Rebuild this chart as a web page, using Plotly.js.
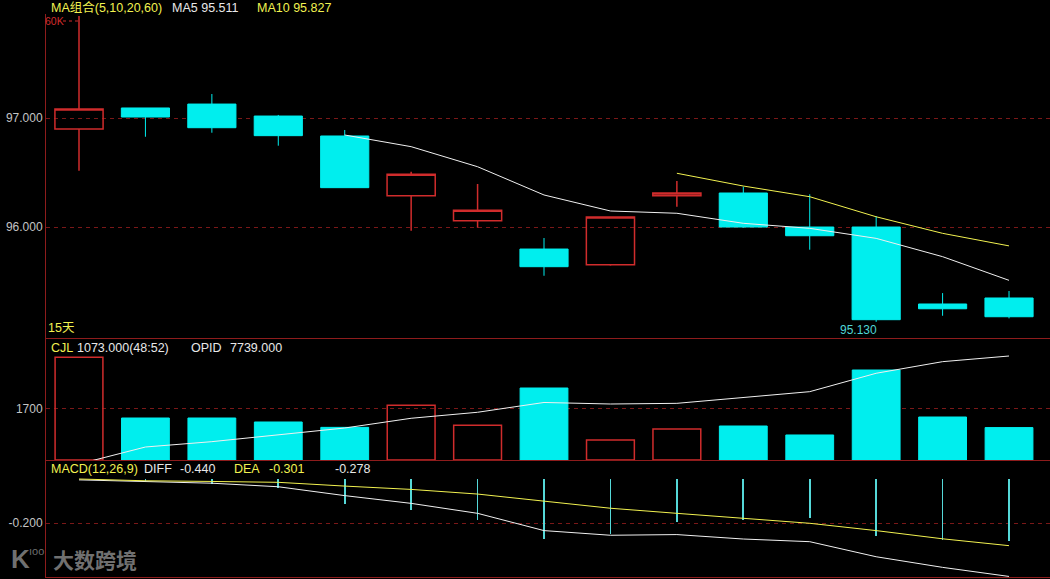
<!DOCTYPE html>
<html><head><meta charset="utf-8">
<script src="https://cdn.plot.ly/plotly-3.0.1.min.js"></script>
<style>html,body{margin:0;padding:0;background:#000;}#chart{width:1050px;height:579px;}</style>
</head><body><div id="chart"></div>
<script>
// ---- data ----
const days  = [1,2,3,4,5,6,7,8,9,10,11,12,13,14,15];
const open  = [96.899,97.092,97.128,97.018,96.835,96.287,96.058,95.798,95.654,96.287,96.312,96.000,96.000,95.294,95.349];
const high  = [97.935,97.092,97.220,97.028,96.890,96.507,96.394,95.899,96.092,96.422,96.370,96.300,96.101,95.394,95.413];
const low   = [96.517,96.828,96.865,96.746,96.361,95.966,95.994,95.553,95.645,96.186,95.994,95.792,95.130,95.186,95.162];
const close = [97.083,97.009,96.911,96.838,96.361,96.483,96.153,95.636,96.092,96.312,96.000,95.920,95.150,95.250,95.177];
const ma5   = [null,null,null,null,96.844,96.737,96.553,96.294,96.147,96.126,96.034,95.988,95.896,95.728,95.511];
const ma10  = [null,null,null,null,null,null,null,null,null,96.493,96.376,96.278,96.094,95.942,95.827];
const volume= [3400,1390,1390,1258,1080,1810,1149,2383,662,1026,1125,828,2979,1423,1073];
const opid  = [6119,6374,6454,6554,6659,6805,6895,7042,7019,7029,7119,7204,7480,7654,7739];
const macd  = [0,-0.008,-0.023,-0.041,-0.114,-0.140,-0.185,-0.271,-0.247,-0.194,-0.185,-0.175,-0.257,-0.275,-0.278];
const diff  = [-0.004,-0.010,-0.019,-0.035,-0.075,-0.110,-0.155,-0.233,-0.254,-0.251,-0.271,-0.283,-0.351,-0.399,-0.440];
const dea   = [0,-0.008,-0.011,-0.015,-0.032,-0.047,-0.068,-0.101,-0.132,-0.155,-0.179,-0.200,-0.233,-0.270,-0.301];
const priceTicks = [96, 97], priceTickText = ['96.000','97.000'];
const volTicks = [1700], volTickText = ['1700'];
const macdTicks = [-0.2], macdTickText = ['-0.200'];

// ---- style ----
const RED = '#d02c2c', CYAN = '#00eeee', BORDER = '#8e1c1c', GRID = '#7a1818';
const YEL = '#f2f250', WHT = '#e8e8e8', AXT = '#c4c4c4';
const FONT = 'Liberation Sans, Arial, Noto Sans CJK SC, sans-serif';
const W = 1050, H = 579, L = 46, R = 0, T = 14, B = 2;
const px = x => (x - L) / (W - L - R);
const py = y => (H - B - y) / (H - T - B);

const isUp = days.map((d, i) => close[i] >= open[i]);

const traces = [
  {type:'candlestick', x:days, open:open, high:high, low:low, close:close,
   xaxis:'x', yaxis:'y', whiskerwidth:0, hoverinfo:'skip',
   increasing:{line:{color:RED, width:1.5}, fillcolor:'rgba(0,0,0,0)'},
   decreasing:{line:{color:CYAN, width:1}, fillcolor:CYAN}},
  {type:'scatter', mode:'lines', x:days, y:ma5, xaxis:'x', yaxis:'y', line:{color:'#f0f0f0', width:1}, hoverinfo:'skip'},
  {type:'scatter', mode:'lines', x:days, y:ma10, xaxis:'x', yaxis:'y', line:{color:YEL, width:1}, hoverinfo:'skip'},
  {type:'bar', x:days, y:volume, xaxis:'x2', yaxis:'y2', width:0.72,
   marker:{color:isUp.map(u => u ? 'rgba(0,0,0,0)' : CYAN),
           line:{color:isUp.map(u => u ? RED : CYAN), width:isUp.map(u => u ? 1.5 : 1)}}, hoverinfo:'skip'},
  {type:'scatter', mode:'lines', x:days, y:opid, xaxis:'x2', yaxis:'y4', line:{color:'#f0f0f0', width:1}, hoverinfo:'skip'},
  {type:'bar', x:days, y:macd, xaxis:'x3', yaxis:'y3', width:0.026, marker:{color:'#55d8d8', line:{width:0}}, hoverinfo:'skip'},
  {type:'scatter', mode:'lines', x:days, y:diff, xaxis:'x3', yaxis:'y3', line:{color:'#f0f0f0', width:1}, hoverinfo:'skip'},
  {type:'scatter', mode:'lines', x:days, y:dea, xaxis:'x3', yaxis:'y3', line:{color:YEL, width:1}, hoverinfo:'skip'}
];

const xr = [1 - 33/66.43, 1 + 971/66.43];
const xBase = {range:xr, showticklabels:false, showgrid:false, zeroline:false, showline:true,
  linecolor:BORDER, linewidth:1, ticks:'', fixedrange:true};
const yBase = {showgrid:true, gridcolor:GRID, griddash:'4px,4px', gridwidth:1, zeroline:false,
  showline:true, linecolor:BORDER, linewidth:1, ticks:'', fixedrange:true,
  tickfont:{family:FONT, size:12, color:AXT}};

function ann(text, x, y, color, size, xanchor) {
  return {text:text, x:px(x), y:py(y), xref:'paper', yref:'paper', xanchor:xanchor || 'left',
    yanchor:'middle', showarrow:false, borderpad:0, font:{family:FONT, size:size || 12, color:color}};
}

const annotations = [
  ann('MA组合(5,10,20,60)', 50, 7.5, YEL, 12.5),
  ann('MA5 95.511', 171, 7.5, WHT, 12.5),
  ann('MA10 95.827', 256, 7.5, YEL, 12.5),
  ann('60K', 44, 21, RED, 10.5),
  ann('15天', 47, 328, YEL, 12.5),
  ann('95.130', 878, 330, '#4fd6d6', 12, 'right'),
  ann('CJL', 50, 348, YEL, 12.5),
  ann('1073.000(48:52)', 76, 348, WHT, 12.5),
  ann('OPID', 190, 348, WHT, 12.5),
  ann('7739.000', 229, 348, WHT, 12.5),
  ann('MACD(12,26,9)', 50, 469, YEL, 12.5),
  ann('DIFF', 143, 469, WHT, 12.5),
  ann('-0.440', 179, 469, WHT, 12.5),
  ann('DEA', 233, 469, YEL, 12.5),
  ann('-0.301', 268, 469, YEL, 12.5),
  ann('-0.278', 334, 469, WHT, 12.5),
  {text:'<b>K</b>', x:px(9), y:py(559), xref:'paper', yref:'paper', xanchor:'left', yanchor:'middle',
   showarrow:false, font:{family:FONT, size:26, color:'rgba(150,150,150,0.75)'}},
  {text:'ıoo', x:px(27), y:py(551), xref:'paper', yref:'paper', xanchor:'left', yanchor:'middle',
   showarrow:false, font:{family:FONT, size:11, color:'rgba(150,150,150,0.75)'}},
  {text:'<b>大数跨境</b>', x:px(51), y:py(559), xref:'paper', yref:'paper', xanchor:'left', yanchor:'middle',
   showarrow:false, font:{family:'Noto Sans CJK SC, sans-serif', size:21, color:'rgba(150,150,150,0.75)'}}
];

const layout = {
  width:W, height:H, margin:{l:L, r:R, t:T, b:B, pad:0},
  paper_bgcolor:'#000', plot_bgcolor:'#000', showlegend:false, boxgap:0.275, boxgroupgap:0, bargap:0,
  xaxis: Object.assign({}, xBase, {anchor:'y', rangeslider:{visible:false}}),
  xaxis2: Object.assign({}, xBase, {anchor:'y2', matches:'x'}),
  xaxis3: Object.assign({}, xBase, {anchor:'y3', matches:'x'}),
  yaxis: Object.assign({}, yBase, {domain:[py(338), 1], range:[94.982, 97.954], tickvals:priceTicks, ticktext:priceTickText, anchor:'x'}),
  yaxis2: Object.assign({}, yBase, {domain:[py(460), py(338)], range:[0, 4038], tickvals:volTicks, ticktext:volTickText, anchor:'x2'}),
  yaxis4: {overlaying:'y2', anchor:'x2', range:[6179, 8009], visible:false, showgrid:false, zeroline:false, fixedrange:true},
  yaxis3: Object.assign({}, yBase, {domain:[0, py(460)], range:[-0.4425, 0.0858], tickvals:macdTicks, ticktext:macdTickText, anchor:'x3'}),
  annotations: annotations,
  shapes: [
    {type:'line', xref:'paper', yref:'paper', x0:px(63), x1:px(78), y0:py(21), y1:py(21), line:{color:RED, width:1, dash:'dot'}}
  ]
};

Plotly.newPlot('chart', traces, layout, {staticPlot:true, displayModeBar:false});
</script>
</body></html>
